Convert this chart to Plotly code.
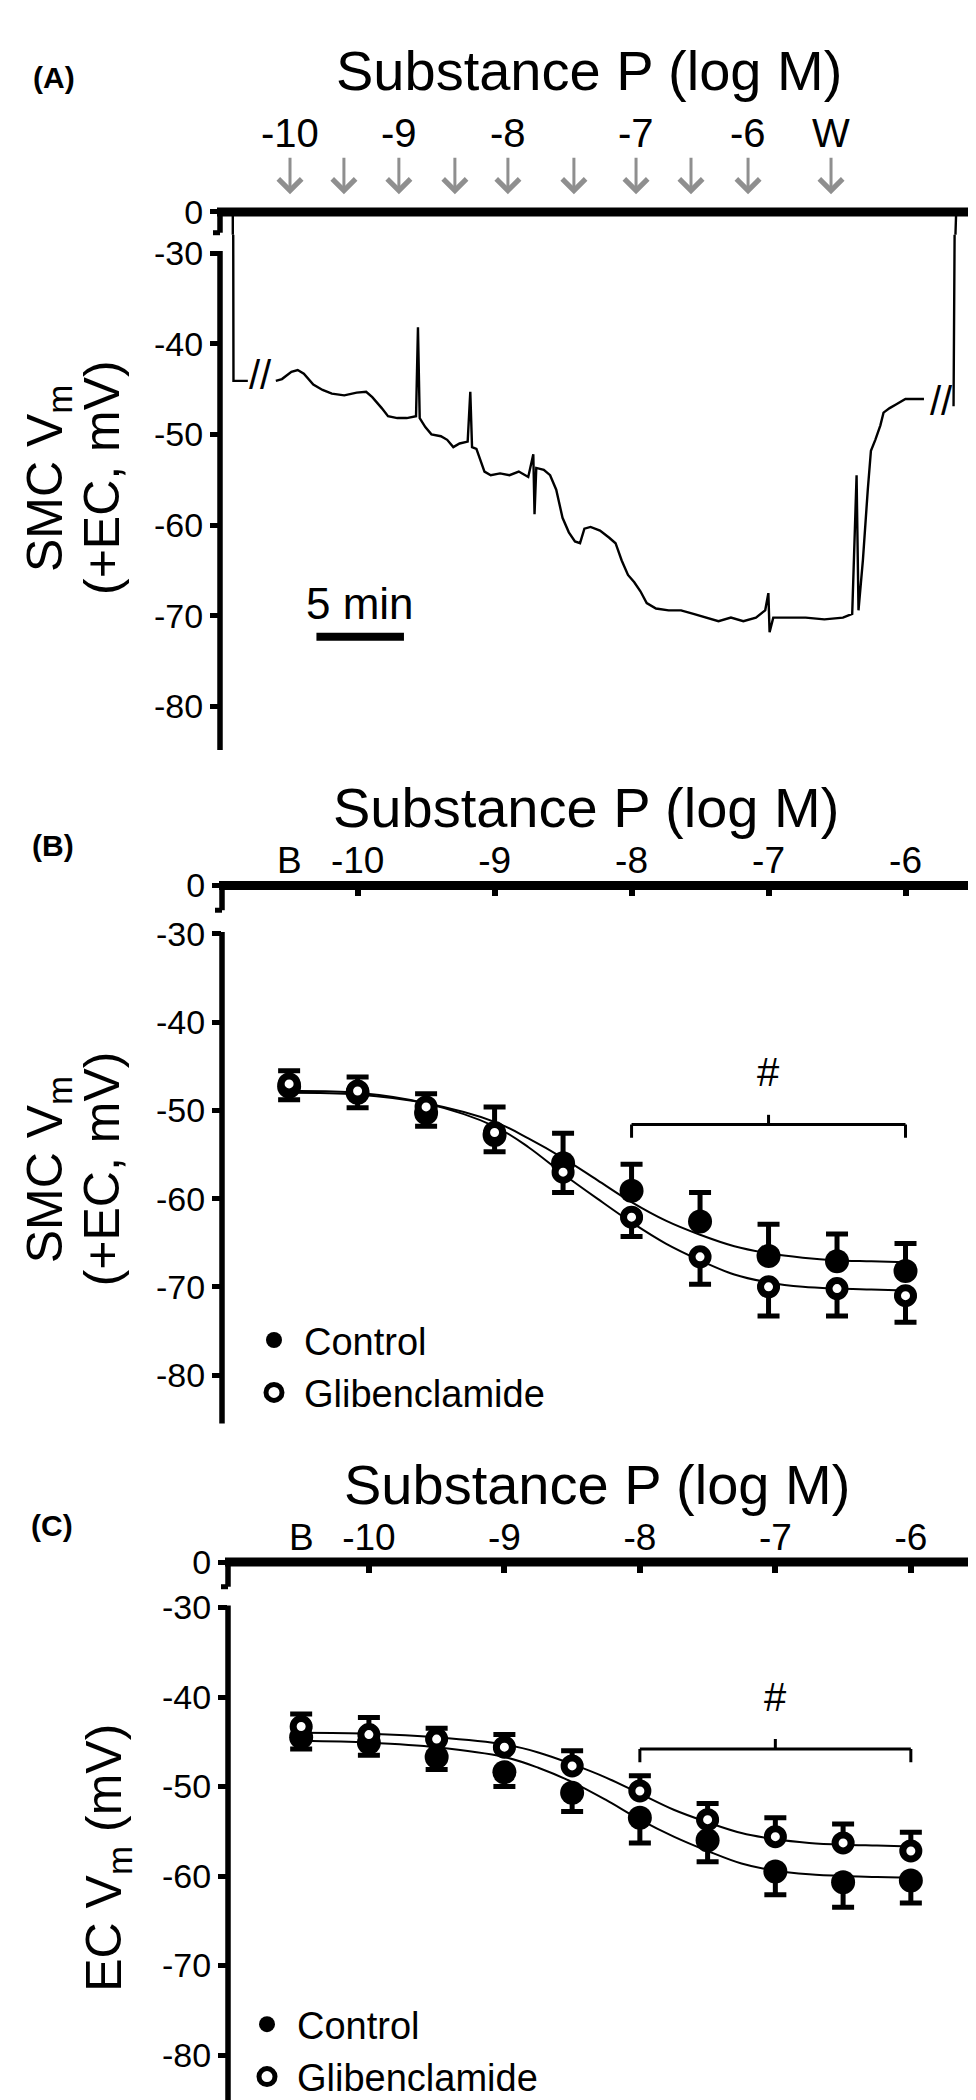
import plotly.graph_objects as go

W, H = 976, 2100
FONT = "Liberation Sans, Arial, Helvetica, sans-serif"

# ---------------- Panel A data (SMC Vm trace, minutes / mV) ----------------
seg1_t = [0.3, 0.62, 0.66, 1.48]
seg1_v = [0, 0, -44.1, -44.1]
seg2_t = [3.08, 3.43, 3.97, 4.33, 4.68, 5.22, 5.75, 6.28, 6.99, 7.70, 8.24, 8.59, 9.13, 9.49,
          10.02, 10.56, 11.09, 11.2, 11.3, 11.62, 11.97, 12.51, 12.87, 13.22, 13.58, 14.04,
          14.19, 14.29, 14.54, 15.0, 15.36, 15.89, 16.43, 16.96, 17.5, 17.79, 17.86, 17.96,
          18.39, 18.75, 19.1, 19.46, 19.82, 20.17, 20.46, 20.71, 21.06, 21.6, 22.13, 22.49,
          22.84, 23.2, 23.56, 23.91, 24.27, 24.8, 25.52, 26.23, 26.94, 27.66, 28.37, 29.08,
          29.79, 30.51, 31.04, 31.22, 31.29, 31.5, 32.28, 33.35, 34.42, 35.48, 36.01, 36.26,
          36.37, 36.62, 36.9, 37.08, 37.33, 37.62, 37.8, 38.15, 38.51, 39.05, 39.58, 40.11]
seg2_v = [-44.1, -43.9, -43.1, -42.9, -43.3, -44.5, -45.1, -45.5, -45.7, -45.4, -45.3, -45.9,
          -47.1, -48.0, -48.2, -48.2, -48.0, -38.2, -48.2, -49.2, -50.0, -50.2, -50.6, -51.4,
          -51.0, -50.8, -45.3, -51.4, -51.6, -54.1, -54.5, -54.3, -54.5, -54.1, -54.7, -52.2,
          -58.8, -53.7, -53.9, -54.5, -56.1, -59.2, -60.8, -61.8, -62.0, -60.4, -60.2, -60.6,
          -61.4, -62.0, -63.9, -65.5, -66.3, -67.3, -68.6, -69.2, -69.4, -69.4, -69.8, -70.2,
          -70.6, -70.2, -70.6, -70.2, -69.4, -67.5, -71.8, -70.2, -70.2, -70.2, -70.4, -70.2,
          -69.8, -54.5, -69.4, -63.9, -56.1, -51.8, -50.6, -49.0, -47.6, -47.1, -46.7, -46.1,
          -46.1, -46.1]
seg3_t = [41.8, 41.86, 41.9, 41.95, 43.5]
seg3_v = [-46.9, -30.0, -3.0, 0, 0]
break_t = [2.2, 41.1]
break_v = [-43.5, -46.3]
arrow_times = [3.89, 6.97, 10.11, 13.31, 16.34, 20.11, 23.66, 26.8, 30.06, 34.8]
arrow_labels = ["-10", "", "-9", "", "-8", "", "-7", "", "-6", "W"]
scalebar_start, scalebar_len, scalebar_v = 5.4, 5.0, -72.3

# ---------------- Panels B & C data ----------------
conc = [-10.5, -10, -9.5, -9, -8.5, -8, -7.5, -7, -6.5, -6]
x_ticks = [-10, -9, -8, -7, -6]
x_ticktext = ["-10", "-9", "-8", "-7", "-6"]
y_ticks = [-30, -40, -50, -60, -70, -80]

b_ctrl = [-47.3, -48.0, -50.3, -52.8, -56.0, -59.1, -62.6, -66.5, -67.1, -68.2]
b_ctrl_err = [1.8, 1.8, 2.2, 3.2, 3.4, 3.0, 3.3, 3.6, 3.1, 3.1]
b_glib = [-47.0, -47.8, -49.6, -52.5, -57.0, -62.1, -66.6, -70.0, -70.2, -71.0]
b_glib_err = [1.8, 1.9, 2.2, 2.2, 2.3, 2.2, 3.1, 3.3, 3.1, 3.0]

c_ctrl = [-44.5, -45.1, -46.7, -48.4, -50.7, -53.5, -56.0, -59.5, -60.7, -60.5]
c_ctrl_err = [1.3, 1.4, 1.4, 1.6, 2.1, 2.8, 2.4, 2.6, 2.8, 2.5]
c_glib = [-43.3, -44.2, -44.7, -45.6, -47.7, -50.5, -53.7, -55.6, -56.3, -57.2]
c_glib_err = [1.4, 1.9, 1.2, 1.4, 1.7, 1.7, 1.8, 2.1, 2.1, 2.1]

fit_x = [-10.5, -10, -9.5, -9, -8.75, -8.5, -8.25, -8, -7.75, -7.5, -7.25, -7, -6.75, -6.5, -6.25, -6]
b_ctrl_fit = [-48.0, -48.2, -49.2, -51.3, -53.2, -55.4, -57.9, -60.4, -62.5, -64.1, -65.4, -66.2,
              -66.7, -67.0, -67.1, -67.2]
b_glib_fit = [-47.8, -48.0, -49.2, -51.8, -54.2, -57.2, -60.0, -62.7, -65.1, -67.0, -68.6, -69.5,
              -70.0, -70.2, -70.3, -70.4]
c_ctrl_fit = [-44.9, -45.1, -45.6, -46.7, -47.9, -49.5, -51.5, -53.7, -55.6, -57.2, -58.6, -59.4,
              -59.8, -60.0, -60.1, -60.2]
c_glib_fit = [-44.0, -44.1, -44.5, -45.3, -46.2, -47.5, -49.0, -50.8, -52.6, -54.0, -55.2, -55.9,
              -56.3, -56.5, -56.6, -56.7]

bracket_x = [-8, -6]
b_bracket_y, c_bracket_y = -51.6, -45.8
b_hash_y, c_hash_y = -45.7, -40.0

# ---------------- layout geometry (pixels) ----------------
def PX(x):
    return x / W


def PY(y):
    return 1 - y / H


panels = {
    "A": dict(xax=212, xr=976, y0=187, seg_end=208, y30=228.5, s=9.17, ybot=731, xrange=[-0.11, 43.54]),
    "B": dict(xax=214, xr=966, y0=868, seg_end=893, y30=917, s=8.92, ybot=1412, xrange=[-10.99, -5.5]),
    "C": dict(xax=220, xr=976, y0=1552, seg_end=1577, y30=1598, s=9.05, ybot=2097, xrange=[-11.04, -5.46]),
}

fig = go.Figure()
layout = dict(width=W, height=H, autosize=False, margin=dict(l=0, r=0, t=0, b=0),
              paper_bgcolor="white", plot_bgcolor="rgba(0,0,0,0)",
              font=dict(family=FONT, color="black"), showlegend=True)
shapes = []
annotations = []

for i, (name, p) in enumerate(panels.items()):
    top_n = 2 * i + 1
    low_n = 2 * i + 2
    split = p["seg_end"] + 2
    xd = [PX(p["xax"]), PX(p["xr"])]
    top_range = [-(split - p["y0"]) / p["s"], 0]
    low_range = [-30 - (p["ybot"] - p["y30"]) / p["s"], -30 + (p["y30"] - split) / p["s"]]
    tx = "x" if top_n == 1 else f"x{top_n}"
    ty = "y" if top_n == 1 else f"y{top_n}"
    lx = f"x{low_n}"
    ly = f"y{low_n}"
    xa_top = dict(domain=xd, range=p["xrange"], anchor=ty, side="top", showgrid=False,
                  zeroline=False, showline=False, fixedrange=True)
    if name == "A":
        xa_top.update(showticklabels=False, ticks="")
    else:
        xa_top.update(tickvals=x_ticks, ticktext=x_ticktext, ticks="inside", ticklen=11,
                      tickwidth=6, tickcolor="black", ticklabelstandoff=4,
                      tickfont=dict(size=37, family=FONT, color="black"))
    layout["xaxis" if top_n == 1 else f"xaxis{top_n}"] = xa_top
    layout[f"xaxis{low_n}"] = dict(domain=xd, range=p["xrange"], anchor=ly, visible=False,
                                   matches=tx)
    yfont = dict(size=34, family=FONT, color="black")
    layout["yaxis" if top_n == 1 else f"yaxis{top_n}"] = dict(
        domain=[PY(split), PY(p["y0"])], range=top_range, anchor=tx, tickvals=[0], ticktext=["0"],
        ticks="outside", ticklen=9, tickwidth=5, tickcolor="black", showgrid=False,
        zeroline=False, showline=False, tickfont=yfont)
    layout[f"yaxis{low_n}"] = dict(
        domain=[PY(p["ybot"]), PY(split)], range=low_range, anchor=lx, tickvals=y_ticks,
        ticktext=[str(v) for v in y_ticks], ticks="outside", ticklen=9, tickwidth=5,
        tickcolor="black", showgrid=False, zeroline=False, showline=False, tickfont=yfont)

    # axis lines with break
    shapes.append(dict(type="line", xref="paper", yref="paper", x0=PX(p["xax"] - 3), x1=PX(p["xr"]),
                       y0=PY(p["y0"]), y1=PY(p["y0"]), line=dict(color="black", width=9), layer="above"))
    shapes.append(dict(type="line", xref="paper", yref="paper", x0=PX(p["xax"]), x1=PX(p["xax"]),
                       y0=PY(p["y0"]), y1=PY(p["seg_end"]), line=dict(color="black", width=5.5), layer="above"))
    shapes.append(dict(type="line", xref="paper", yref="paper", x0=PX(p["xax"] - 7), x1=PX(p["xax"]),
                       y0=PY(p["seg_end"]), y1=PY(p["seg_end"]), line=dict(color="black", width=5), layer="above"))
    shapes.append(dict(type="line", xref="paper", yref="paper", x0=PX(p["xax"]), x1=PX(p["xax"]),
                       y0=PY(p["y30"] - 2), y1=PY(p["ybot"]), line=dict(color="black", width=5.5), layer="above"))

# ---------------- Panel A traces ----------------
trace_t = seg1_t + [None] + seg2_t + [None] + seg3_t
trace_v = seg1_v + [None] + seg2_v + [None] + seg3_v
for xa, ya in (("x", "y"), ("x2", "y2")):
    fig.add_trace(go.Scatter(x=trace_t, y=trace_v, mode="lines", xaxis=xa, yaxis=ya,
                             line=dict(color="black", width=2.4), showlegend=False, hoverinfo="skip",
                             connectgaps=False))

for t, v in zip(break_t, break_v):
    annotations.append(dict(x=t, y=v, xref="x2", yref="y2", text="//", showarrow=False,
                            font=dict(size=40, family=FONT, color="black")))

shapes.append(dict(type="line", xref="x2", yref="y2", x0=scalebar_start, x1=scalebar_start + scalebar_len,
                   y0=scalebar_v, y1=scalebar_v, line=dict(color="black", width=8)))
annotations.append(dict(x=scalebar_start + scalebar_len / 2, y=scalebar_v + 3.6, xref="x2", yref="y2",
                        text="5 min", showarrow=False, font=dict(size=44, family=FONT, color="black")))

for t, lab in zip(arrow_times, arrow_labels):
    annotations.append(dict(x=t, y=PY(169), xref="x", yref="paper", text="", showarrow=True,
                            ax=0, ay=-38, arrowhead=4, arrowsize=1.5, arrowwidth=3,
                            arrowcolor="#8f8f8f"))
    if lab:
        annotations.append(dict(x=t, y=PY(107), xref="x", yref="paper", text=lab, showarrow=False,
                                font=dict(size=40, family=FONT, color="black")))


# ---------------- Panels B & C traces ----------------
def add_dose(xa, ya, ctrl, ctrl_err, glib, glib_err, cfit, gfit, ctrl_up, legend):
    zeros = [0] * len(conc)
    for fy in (cfit, gfit):
        fig.add_trace(go.Scatter(x=fit_x, y=fy, mode="lines", xaxis=xa, yaxis=ya,
                                 line=dict(color="black", width=2, shape="spline"),
                                 showlegend=False, hoverinfo="skip"))
    ctrl_e = dict(type="data", symmetric=False, array=ctrl_err if ctrl_up else zeros,
                  arrayminus=zeros if ctrl_up else ctrl_err, color="black", thickness=5, width=11)
    glib_e = dict(type="data", symmetric=False, array=zeros if ctrl_up else glib_err,
                  arrayminus=glib_err if ctrl_up else zeros, color="black", thickness=5, width=11)
    fig.add_trace(go.Scatter(x=conc, y=ctrl, mode="markers", xaxis=xa, yaxis=ya, name="Control",
                             legend=legend, error_y=ctrl_e,
                             marker=dict(symbol="circle", size=24, color="black",
                                         line=dict(color="black", width=0))))
    fig.add_trace(go.Scatter(x=conc, y=glib, mode="markers", xaxis=xa, yaxis=ya, name="Glibenclamide",
                             legend=legend, error_y=glib_e,
                             marker=dict(symbol="circle", size=16, color="white",
                                         line=dict(color="black", width=7))))


add_dose("x4", "y4", b_ctrl, b_ctrl_err, b_glib, b_glib_err, b_ctrl_fit, b_glib_fit, True, "legend")
add_dose("x6", "y6", c_ctrl, c_ctrl_err, c_glib, c_glib_err, c_ctrl_fit, c_glib_fit, False, "legend2")

for xa, ya, by, hy in (("x4", "y4", b_bracket_y, b_hash_y), ("x6", "y6", c_bracket_y, c_hash_y)):
    mid = (bracket_x[0] + bracket_x[1]) / 2
    ln = dict(color="black", width=3)
    shapes.append(dict(type="line", xref=xa, yref=ya, x0=bracket_x[0], x1=bracket_x[1], y0=by, y1=by, line=ln))
    shapes.append(dict(type="line", xref=xa, yref=ya, x0=bracket_x[0], x1=bracket_x[0], y0=by, y1=by - 1.5, line=ln))
    shapes.append(dict(type="line", xref=xa, yref=ya, x0=bracket_x[1], x1=bracket_x[1], y0=by, y1=by - 1.5, line=ln))
    shapes.append(dict(type="line", xref=xa, yref=ya, x0=mid, x1=mid, y0=by, y1=by + 1.1, line=ln))
    annotations.append(dict(x=mid, y=hy, xref=xa, yref=ya, text="#", showarrow=False,
                            font=dict(size=40, family=FONT, color="black")))

# "B" (baseline) category labels on top axes
for xa, y0 in (("x3", 868), ("x5", 1552)):
    annotations.append(dict(x=-10.5, y=PY(y0 - 25), xref=xa, yref="paper", text="B", showarrow=False,
                            font=dict(size=37, family=FONT, color="black")))

# titles, panel letters, axis titles
for (cx, cy) in ((581, 44), (578, 789), (589, 1474)):
    annotations.append(dict(x=PX(cx), y=PY(cy), xref="paper", yref="paper", text="Substance P (log M)",
                            showarrow=False, font=dict(size=56, family=FONT, color="black")))
for lab, (cx, cy) in (("(A)", (46, 51)), ("(B)", (45, 828)), ("(C)", (44, 1515))):
    annotations.append(dict(x=PX(cx), y=PY(cy), xref="paper", yref="paper", text=f"<b>{lab}</b>",
                            showarrow=False, font=dict(size=30, family=FONT, color="black")))
for cy in (456, 1155):
    annotations.append(dict(x=PX(40), y=PY(cy), xref="paper", yref="paper", text="SMC V<sub>m</sub>",
                            textangle=-90, showarrow=False, font=dict(size=50, family=FONT, color="black")))
    annotations.append(dict(x=PX(94), y=PY(cy), xref="paper", yref="paper", text="(+EC, mV)",
                            textangle=-90, showarrow=False, font=dict(size=50, family=FONT, color="black")))
annotations.append(dict(x=PX(100), y=PY(1851), xref="paper", yref="paper", text="EC V<sub>m</sub> (mV)",
                        textangle=-90, showarrow=False, font=dict(size=50, family=FONT, color="black")))

for a in annotations:
    a.setdefault("xanchor", "center")
    a.setdefault("yanchor", "middle")

leg_common = dict(xanchor="left", yanchor="top", bgcolor="rgba(0,0,0,0)", borderwidth=0,
                  font=dict(size=38, family=FONT, color="black"), itemwidth=50, tracegroupgap=0)
layout["legend"] = dict(x=PX(236), y=PY(1296), **leg_common)
layout["legend2"] = dict(x=PX(229), y=PY(1988), **leg_common)
layout["shapes"] = shapes
layout["annotations"] = annotations
fig.update_layout(**layout)

fig.write_html("out.html")
